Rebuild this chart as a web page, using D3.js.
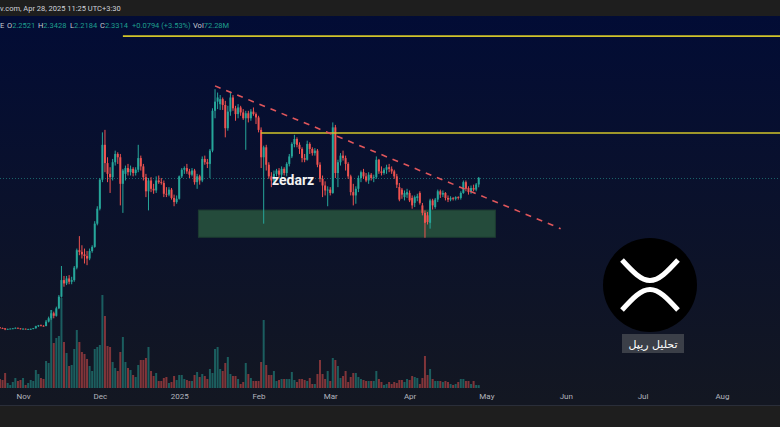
<!DOCTYPE html>
<html>
<head>
<meta charset="utf-8">
<script src="https://cdn.jsdelivr.net/npm/d3@7"></script>
<style>
  html, body { margin: 0; padding: 0; background: #1e1e1e; }
  svg { display: block; }
</style>
</head>
<body>
<script>
// daily XRP candles, one entry per day starting at startDay
var startDay = "2024-10-23";

var opens = [
  .530, .522, .519, .506, .512, .515, .518, .525, .518, .510,
  .514, .509, .511, .513, .520, .545, .555, .550, .546, .600,
  .640, .700, .670, .760, .900, 1.10, 1.06, 1.12, 1.08, 1.10,
  1.25, 1.46, 1.44, 1.41, 1.39, 1.36, 1.45, 1.50, 1.78, 1.96,
  2.31, 2.73, 2.51, 2.38, 2.34, 2.52, 2.62, 2.58, 2.26, 2.38,
  2.45, 2.40, 2.44, 2.39, 2.43, 2.57, 2.47, 2.34, 2.17, 2.30,
  2.20, 2.18, 2.30, 2.28, 2.27, 2.14, 2.13, 2.19, 2.09, 2.04,
  2.08, 2.35, 2.43, 2.45, 2.41, 2.37, 2.42, 2.28, 2.35, 2.30,
  2.56, 2.52, 2.50, 2.66, 3.14, 3.25, 3.22, 3.28, 3.21, 2.93,
  3.13, 3.30, 3.17, 3.10, 3.18, 3.12, 3.05, 3.11, 3.05, 3.13,
  3.10, 3.06, 2.91, 2.58, 2.70, 2.49, 2.35, 2.30, 2.38, 2.42,
  2.37, 2.44, 2.39, 2.50, 2.59, 2.74, 2.80, 2.73, 2.68, 2.57,
  2.55, 2.74, 2.68, 2.63, 2.66, 2.49, 2.32, 2.24, 2.18, 2.19,
  2.15, 2.94, 2.39, 2.52, 2.60, 2.57, 2.50, 2.35, 2.16, 2.12,
  2.20, 2.33, 2.40, 2.35, 2.30, 2.37, 2.33, 2.34, 2.55, 2.41,
  2.39, 2.43, 2.46, 2.44, 2.41, 2.35, 2.22, 2.19, 2.10, 2.13,
  2.15, 2.09, 2.03, 2.09, 2.15, 2.00, 1.91, 1.88, 1.79, 2.06,
  1.98, 2.07, 2.17, 2.13, 2.15, 2.09, 2.07, 2.09, 2.08, 2.10,
  2.09, 2.15, 2.28, 2.21, 2.16, 2.21, 2.19, 2.2521
];
var highs = [
  .535, .528, .522, .515, .518, .522, .530, .528, .520, .520,
  .516, .514, .516, .523, .550, .560, .565, .556, .620, .660,
  .740, .720, .780, .920, 1.27, 1.15, 1.15, 1.16, 1.14, 1.27,
  1.48, 1.63, 1.52, 1.48, 1.45, 1.48, 1.52, 1.81, 1.99, 2.33,
  2.88, 2.91, 2.58, 2.46, 2.56, 2.66, 2.64, 2.62, 2.44, 2.48,
  2.50, 2.48, 2.46, 2.46, 2.73, 2.60, 2.50, 2.38, 2.33, 2.34,
  2.26, 2.35, 2.36, 2.33, 2.30, 2.22, 2.22, 2.21, 2.13, 2.12,
  2.36, 2.45, 2.47, 2.50, 2.44, 2.45, 2.44, 2.38, 2.37, 2.59,
  2.60, 2.56, 2.68, 3.17, 3.40, 3.36, 3.33, 3.30, 3.26, 3.20,
  3.37, 3.33, 3.20, 3.22, 3.20, 3.16, 3.14, 3.14, 3.16, 3.18,
  3.12, 3.08, 2.94, 2.72, 2.73, 2.52, 2.40, 2.42, 2.44, 2.45,
  2.47, 2.46, 2.52, 2.62, 2.76, 2.85, 2.82, 2.76, 2.70, 2.62,
  2.78, 2.76, 2.70, 2.69, 2.68, 2.52, 2.36, 2.29, 2.23, 2.22,
  3.00, 2.97, 2.55, 2.63, 2.66, 2.60, 2.52, 2.37, 2.26, 2.23,
  2.36, 2.42, 2.44, 2.39, 2.40, 2.39, 2.37, 2.59, 2.56, 2.47,
  2.45, 2.49, 2.50, 2.47, 2.43, 2.38, 2.27, 2.21, 2.18, 2.20,
  2.18, 2.12, 2.12, 2.14, 2.17, 2.03, 1.94, 1.92, 2.08, 2.08,
  2.09, 2.19, 2.19, 2.18, 2.16, 2.12, 2.11, 2.10, 2.11, 2.11,
  2.17, 2.30, 2.30, 2.23, 2.24, 2.25, 2.27, 2.3428
];
var lows = [
  .518, .515, .497, .503, .508, .510, .515, .515, .506, .505,
  .506, .499, .500, .508, .515, .535, .545, .540, .545, .590,
  .620, .640, .660, .750, .890, 1.02, 1.04, 1.05, 1.05, 1.08,
  1.23, 1.40, 1.36, 1.30, 1.28, 1.34, 1.43, 1.49, 1.76, 1.94,
  2.28, 2.40, 2.28, 2.15, 2.30, 2.48, 2.50, 2.00, 1.91, 2.30,
  2.36, 2.36, 2.35, 2.36, 2.40, 2.42, 2.30, 2.10, 1.94, 2.16,
  2.14, 2.15, 2.26, 2.25, 2.10, 2.10, 2.11, 2.07, 1.99, 2.02,
  2.07, 2.33, 2.38, 2.38, 2.33, 2.35, 2.25, 2.20, 2.25, 2.28,
  2.49, 2.45, 2.33, 2.64, 3.05, 3.16, 3.15, 3.15, 2.82, 2.90,
  3.08, 3.14, 3.02, 3.05, 3.08, 3.03, 2.67, 3.00, 3.02, 3.08,
  2.98, 2.88, 2.45, 1.78, 2.42, 2.32, 2.22, 2.27, 2.35, 2.33,
  2.33, 2.36, 2.35, 2.47, 2.57, 2.70, 2.70, 2.62, 2.52, 2.52,
  2.54, 2.62, 2.60, 2.60, 2.46, 2.28, 2.10, 2.12, 1.99, 2.12,
  2.14, 2.33, 2.22, 2.48, 2.54, 2.42, 2.32, 2.12, 2.00, 2.02,
  2.16, 2.28, 2.32, 2.28, 2.26, 2.30, 2.28, 2.32, 2.38, 2.36,
  2.37, 2.38, 2.40, 2.38, 2.32, 2.21, 2.05, 2.08, 2.06, 2.09,
  2.04, 1.96, 1.98, 2.05, 2.01, 1.88, 1.61, 1.77, 1.72, 1.95,
  1.96, 2.04, 2.09, 2.10, 2.06, 2.04, 2.05, 2.06, 2.06, 2.07,
  2.07, 2.14, 2.17, 2.13, 2.14, 2.17, 2.17, 2.2184
];
var closes = [
  .522, .519, .506, .512, .515, .518, .525, .518, .510, .514,
  .509, .511, .513, .520, .545, .555, .550, .546, .600, .640,
  .700, .670, .760, .900, 1.10, 1.06, 1.12, 1.08, 1.10, 1.25,
  1.46, 1.44, 1.41, 1.39, 1.36, 1.45, 1.50, 1.78, 1.96, 2.31,
  2.73, 2.51, 2.38, 2.34, 2.52, 2.62, 2.58, 2.26, 2.42, 2.45,
  2.40, 2.44, 2.39, 2.43, 2.57, 2.47, 2.34, 2.17, 2.30, 2.20,
  2.18, 2.30, 2.28, 2.27, 2.14, 2.13, 2.19, 2.09, 2.04, 2.08,
  2.35, 2.43, 2.45, 2.41, 2.37, 2.42, 2.28, 2.35, 2.30, 2.56,
  2.52, 2.50, 2.66, 3.14, 3.25, 3.30, 3.28, 3.21, 2.93, 3.13,
  3.30, 3.17, 3.10, 3.18, 3.12, 3.05, 3.11, 3.05, 3.13, 3.10,
  3.06, 2.91, 2.58, 2.70, 2.49, 2.35, 2.30, 2.38, 2.42, 2.37,
  2.44, 2.39, 2.50, 2.59, 2.74, 2.80, 2.73, 2.68, 2.57, 2.55,
  2.74, 2.68, 2.63, 2.66, 2.49, 2.32, 2.24, 2.18, 2.19, 2.15,
  2.94, 2.39, 2.52, 2.60, 2.57, 2.50, 2.35, 2.16, 2.12, 2.20,
  2.33, 2.40, 2.35, 2.30, 2.37, 2.33, 2.34, 2.55, 2.41, 2.39,
  2.43, 2.46, 2.44, 2.41, 2.35, 2.25, 2.07, 2.13, 2.15, 2.16,
  2.06, 2.00, 2.10, 2.11, 2.03, 1.91, 1.79, 1.80, 2.06, 2.00,
  2.07, 2.17, 2.13, 2.15, 2.09, 2.07, 2.09, 2.08, 2.10, 2.09,
  2.15, 2.28, 2.20, 2.16, 2.21, 2.19, 2.2521, 2.3314
];
// volume in millions
var volumes = [
  225, 200, 375, 125, 75, 150, 250, 175, 200, 250,
  75, 125, 200, 175, 450, 350, 250, 225, 675, 625,
  1950, 1125, 1250, 1300, 2250, 1150, 875, 550, 575, 975,
  1450, 1150, 900, 850, 725, 550, 425, 975, 1025, 1075,
  2325, 1800, 1050, 1025, 650, 500, 425, 900, 1275, 650,
  500, 450, 325, 275, 575, 700, 700, 750, 1025, 425,
  300, 375, 175, 175, 250, 275, 125, 150, 300, 200,
  325, 325, 225, 200, 175, 175, 325, 400, 275, 350,
  300, 225, 475, 375, 975, 1025, 475, 425, 625, 775,
  350, 300, 300, 225, 100, 150, 625, 350, 250, 175,
  175, 175, 650, 1700, 575, 325, 325, 425, 175, 200,
  225, 225, 225, 225, 400, 200, 150, 225, 225, 200,
  175, 250, 100, 100, 350, 700, 350, 225, 425, 175,
  750, 700, 550, 250, 300, 425, 150, 275, 375, 375,
  275, 225, 200, 175, 175, 175, 175, 425, 225, 150,
  75, 100, 150, 100, 150, 125, 200, 200, 150, 225,
  200, 300, 275, 250, 100, 250, 800, 325, 475, 225,
  175, 175, 175, 150, 175, 150, 100, 75, 100, 150,
  225, 225, 175, 175, 100, 175, 75, 72.28
];

var monthTicks = ["2024-11-01", "2024-12-01", "2025-01-01", "2025-02-01", "2025-03-01",
                  "2025-04-01", "2025-05-01", "2025-06-01", "2025-07-01", "2025-08-01"];
var tickLabels = ["Nov", "Dec", "2025", "Feb", "Mar", "Apr", "May", "Jun", "Jul", "Aug"];

// drawings on the chart
var levelStarts = ["2024-12-10", "2025-02-02"];
var levelPrices = [4.04, 2.872];
var zoneDates = ["2025-01-08", "2025-05-04"];
var zonePrices = [1.944, 1.616];
var trendDates = ["2025-01-15", "2025-05-30"];
var trendPrices = [3.44, 1.72];

var legendLabels = ["O", "H", "L", "C", "", "Vol"];
var legendValues = ["2.2521", "2.3428", "2.2184", "2.3314", "+0.0794 (+3.53%)", "72.28M"];
var headerText = "v.com, Apr 28, 2025 11:25 UTC+3:30";
var watermark = "zedarz";
var badgeText = "تحلیل ریپل";

var W = 780, H = 427;
var upCol = "#26a69a", downCol = "#ef5350";
var parse = d3.utcParse("%Y-%m-%d");

var bars = closes.map(function(c, i) {
  return {
    date: d3.utcDay.offset(parse(startDay), i),
    o: opens[i], h: highs[i], l: lows[i], c: c, v: volumes[i]
  };
});

var svg = d3.select("body").append("svg")
  .attr("width", W)
  .attr("height", H)
  .style("font-family", "Roboto, 'DejaVu Sans', sans-serif");

var defs = svg.append("defs");
var grad = defs.append("linearGradient")
  .attr("id", "bg")
  .attr("gradientUnits", "userSpaceOnUse")
  .attr("x1", 0).attr("y1", 16).attr("x2", 0).attr("y2", 400);
grad.append("stop").attr("offset", 0).attr("stop-color", "#020c35");
grad.append("stop").attr("offset", 1).attr("stop-color", "#131722");
defs.append("clipPath").attr("id", "plot")
  .append("rect").attr("x", 0).attr("y", 16).attr("width", W).attr("height", 372);

// frame + chart background
svg.append("rect").attr("width", W).attr("height", H).attr("fill", "#1e1e1e");
svg.append("rect").attr("x", 0).attr("y", 16).attr("width", W).attr("height", 389).attr("fill", "url(#bg)");
svg.append("line").attr("x1", 0).attr("x2", W).attr("y1", 405.5).attr("y2", 405.5)
  .attr("stroke", "#2a2e39");

// scales: ~2.56 px per day, linear price
var x = d3.scaleUtc()
  .domain([parse("2024-10-23"), parse("2025-08-01")])
  .range([0, 282 * 2.56]);
var y = d3.scaleLinear().domain([0.5, 3.5]).range([329.9, 80.9]);
var yv = d3.scaleLinear().domain([0, 2500]).range([388, 288]);

var plot = svg.append("g").attr("clip-path", "url(#plot)");

// volume
plot.selectAll(".vol").data(bars).enter().append("rect")
  .attr("class", "vol")
  .attr("x", function(d) { return x(d.date) - 1; })
  .attr("width", 2)
  .attr("y", function(d) { return yv(d.v); })
  .attr("height", function(d) { return 388 - yv(d.v); })
  .attr("fill", function(d) { return d.c >= d.o ? upCol : downCol; })
  .attr("fill-opacity", 0.5);

plot.append("line")
  .attr("x1", x(bars[bars.length - 1].date) + 2).attr("x2", W)
  .attr("y1", 388.5).attr("y2", 388.5)
  .attr("stroke", "#363a45").attr("stroke-dasharray", "1,2");

// support zone
plot.append("rect")
  .attr("x", x(parse(zoneDates[0])) + 1.3)
  .attr("width", x(parse(zoneDates[1])) - x(parse(zoneDates[0])))
  .attr("y", y(zonePrices[0]))
  .attr("height", y(zonePrices[1]) - y(zonePrices[0]))
  .attr("fill", "#244b3b")
  .attr("stroke", "#1d3b31");

// last price line
plot.append("line")
  .attr("x1", 0).attr("x2", W)
  .attr("y1", Math.round(y(closes[closes.length - 1])) + 0.5)
  .attr("y2", Math.round(y(closes[closes.length - 1])) + 0.5)
  .attr("stroke", upCol).attr("stroke-opacity", 0.55)
  .attr("stroke-dasharray", "1,2");

// candles
var candle = plot.selectAll(".candle").data(bars).enter().append("g").attr("class", "candle")
  .attr("fill", function(d) { return d.c >= d.o ? upCol : downCol; });
candle.append("rect")
  .attr("x", function(d) { return x(d.date) - 0.5; })
  .attr("width", 1)
  .attr("y", function(d) { return y(d.h); })
  .attr("height", function(d) { return y(d.l) - y(d.h); });
candle.append("rect")
  .attr("x", function(d) { return x(d.date) - 1; })
  .attr("width", 2)
  .attr("y", function(d) { return y(Math.max(d.o, d.c)); })
  .attr("height", function(d) { return Math.max(0.8, Math.abs(y(d.o) - y(d.c))); });

// horizontal levels
levelStarts.forEach(function(s, i) {
  plot.append("line")
    .attr("x1", x(parse(s))).attr("x2", W)
    .attr("y1", y(levelPrices[i])).attr("y2", y(levelPrices[i]))
    .attr("stroke", "#d2c42a").attr("stroke-width", 1.6);
});

// descending trend line
plot.append("line")
  .attr("x1", x(parse(trendDates[0]))).attr("y1", y(trendPrices[0]))
  .attr("x2", x(parse(trendDates[1]))).attr("y2", y(trendPrices[1]))
  .attr("stroke", "#e0565b").attr("stroke-width", 1.6)
  .attr("stroke-dasharray", "6,6");

// watermark
plot.append("text")
  .attr("x", 272).attr("y", 185)
  .attr("fill", "#f2f2f2")
  .style("font-size", "14px").style("font-weight", 700)
  .text(watermark);

// XRP badge
var logo = svg.append("g").attr("transform", "translate(650,285)");
logo.append("circle").attr("r", 47).attr("fill", "#000");
logo.append("path")
  .attr("d", "M-28,-25 C-17,-13 -9,-4.5 0,-4.5 C9,-4.5 17,-13 28,-25")
  .attr("fill", "none").attr("stroke", "#fff").attr("stroke-width", 5);
logo.append("path")
  .attr("d", "M-28,25 C-17,13 -9,4.5 0,4.5 C9,4.5 17,13 28,25")
  .attr("fill", "none").attr("stroke", "#fff").attr("stroke-width", 5);
svg.append("rect").attr("x", 622).attr("y", 334).attr("width", 62).attr("height", 19)
  .attr("fill", "#3b3f48");
svg.append("text")
  .attr("x", 653).attr("y", 348)
  .attr("text-anchor", "middle")
  .attr("fill", "#fff")
  .style("font-family", "'DejaVu Sans', sans-serif")
  .style("font-size", "11px")
  .text(badgeText);

// time axis
var xAxis = d3.axisBottom(x)
  .tickValues(monthTicks.map(parse))
  .tickFormat(function(d, i) { return tickLabels[i]; })
  .tickSize(0)
  .tickPadding(5);
var ax = svg.append("g").attr("transform", "translate(0,388)").call(xAxis);
ax.select(".domain").remove();
ax.selectAll("text").attr("fill", "#b2b5be").style("font-size", "8px")
  .style("font-family", "Roboto, sans-serif");

// header line
svg.append("text")
  .attr("x", 0).attr("y", 11)
  .attr("fill", "#d1d4dc")
  .style("font-size", "7.5px")
  .text(headerText);

// OHLC legend
var legendX = [7, 38, 70, 100, 132, 193];
svg.append("text").attr("x", 0).attr("y", 28).attr("fill", "#c8cbd3")
  .style("font-size", "7.5px").text("E");
legendLabels.forEach(function(lab, i) {
  var t = svg.append("text").attr("x", legendX[i]).attr("y", 28).style("font-size", "7.5px");
  t.append("tspan").attr("fill", "#c8cbd3").text(lab);
  t.append("tspan").attr("fill", "#1f9f8d").text(legendValues[i]);
});
</script>
</body>
</html>
